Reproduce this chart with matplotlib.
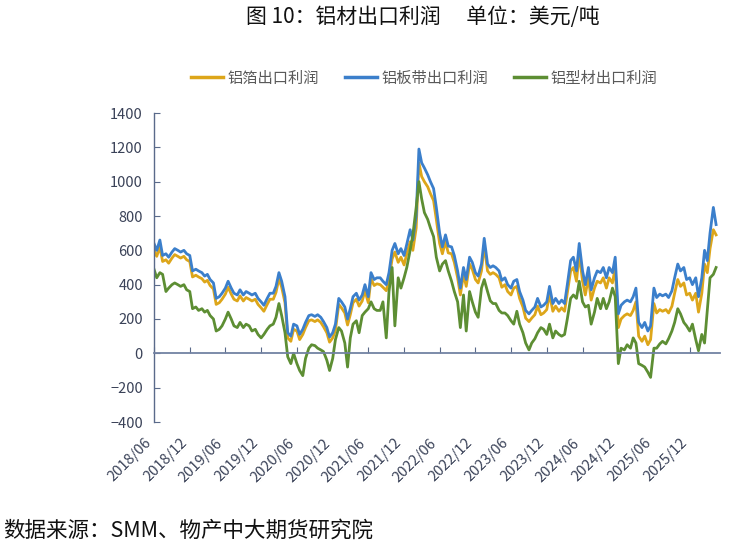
import matplotlib
matplotlib.use("Agg")
import matplotlib.pyplot as plt
import matplotlib.dates as mdates
import pandas as pd
import numpy as np

plt.rcParams['font.family'] = ['Noto Sans CJK SC', 'DejaVu Sans']

# semi-monthly observations starting 2018-06-01
start_date = '2018-06-01'

plate = [  # 铝板带出口利润
    640, 600, 660, 570, 580, 560, 590, 610, 600, 590,
    600, 580, 570, 480, 490, 480, 470, 450, 460, 430,
    410, 320, 330, 350, 380, 420, 380, 350, 340, 370,
    340, 360, 350, 340, 350, 320, 300, 280, 320, 350,
    350, 390, 470, 420, 330, 120, 100, 170,
    160, 110, 140, 180, 220, 225, 215, 225, 210, 185,
    150, 95, 120, 170, 320, 300, 270, 200, 260, 330,
    350, 310, 340, 400, 330, 470, 430, 440, 440, 420,
    400, 470, 600, 640, 580, 610, 570, 636, 720, 660,
    800, 1190, 1110, 1080, 1040, 1000, 960, 850,
    700, 620, 690, 625, 620, 570, 480, 380, 500, 430,
    560, 530, 470, 450, 520, 670, 520, 500, 510, 500,
    480, 425, 440, 400, 380, 420, 430, 360, 310, 250,
    230, 250, 270, 320, 270, 280, 300, 390, 290, 320,
    290, 310, 290, 400, 540, 560, 480, 640,
    480, 400, 500, 370, 440, 480, 470, 500, 440, 500,
    470, 560, 230, 280, 300, 310, 300, 330, 380, 180,
    150, 180, 130, 160, 380, 325, 345, 335, 345, 325,
    364, 440, 520, 480, 500, 430, 440, 400, 440, 330,
    440, 600, 540, 700, 850, 750,
]

foil = [  # 铝箔出口利润
    600, 565, 620, 535, 545, 525, 555, 575, 565, 555,
    565, 545, 535, 445, 455, 445, 435, 415, 425, 395,
    375, 285, 295, 315, 345, 385, 345, 315, 305, 335,
    305, 325, 315, 305, 315, 285, 265, 245, 285, 315,
    315, 355, 435, 385, 295, 90, 70, 140,
    130, 80, 110, 150, 190, 195, 185, 195, 180, 155,
    120, 65, 90, 135, 285, 265, 235, 165, 225, 295,
    315, 275, 305, 365, 295, 435, 395, 405, 400, 385,
    365, 430, 550, 590, 530, 560, 515, 580, 650, 600,
    730, 1110, 1030, 1000, 970, 930, 890, 780,
    640, 580, 650, 585, 580, 530, 440, 340, 460, 390,
    520, 490, 430, 410, 480, 630, 480, 460, 470, 460,
    440, 385, 400, 360, 340, 380, 390, 320, 270, 205,
    185, 205, 225, 275, 225, 235, 255, 345, 245, 275,
    245, 265, 245, 350, 480, 500, 420, 580,
    420, 340, 440, 310, 380, 420, 410, 440, 380, 440,
    410, 500, 150, 200, 220, 230, 220, 250, 300, 100,
    70, 100, 50, 80, 290, 235, 255, 245, 255, 235,
    274, 350, 430, 390, 410, 340, 350, 310, 350, 240,
    350, 520, 470, 610, 720, 690,
]

profile = [  # 铝型材出口利润
    490, 440, 470, 460, 360, 380, 400, 410, 400, 390,
    400, 370, 360, 260, 270, 250, 260, 240, 250, 220,
    200, 130, 140, 160, 200, 240, 200, 160, 150, 180,
    150, 170, 160, 130, 140, 110, 90, 110, 140, 160,
    170, 210, 290, 220, 120, -20, -60, 0,
    -60, -100, -130, -30, 30, 50, 45, 30, 20, 10,
    -40, -100, -30, 80, 150, 130, 60, -80, 90, 170,
    190, 120, 220, 240, 260, 300, 260, 250, 250, 300,
    90, 360, 500, 160, 440, 380, 440, 500, 600, 690,
    850, 1000, 900, 820, 780, 730, 680, 560,
    480, 520, 540, 480, 420, 360, 300, 150, 340, 130,
    360, 300, 240, 210, 380, 430, 360, 306, 290, 290,
    250, 235, 235, 220, 190, 170, 245, 170, 120, 60,
    20, 60, 85, 120, 150, 140, 110, 170, 90, 130,
    110, 100, 110, 200, 320, 340, 320, 420,
    300, 270, 280, 170, 240, 320, 260, 320, 260, 300,
    380, 330, -60, 30, 20, 50, 30, 90, 60, -60,
    -70, -80, -110, -140, 30, 30, 55, 70, 55, 85,
    130, 180, 260, 230, 180, 160, 130, 170, 80, 15,
    110, 60, 250, 440, 460, 500,
]

series_names = ['铝箔出口利润', '铝板带出口利润', '铝型材出口利润']
series_colors = ['#DDA61A', '#3B7FCB', '#5D8E33']

tick_labels = ['2018/06', '2018/12', '2019/06', '2019/12', '2020/06', '2020/12',
               '2021/06', '2021/12', '2022/06', '2022/12', '2023/06', '2023/12',
               '2024/06', '2024/12', '2025/06', '2025/12']
y_ticks = list(range(-400, 1401, 200))

title = '图 10：铝材出口利润\u3000 单位：美元/吨'
source = '数据来源：SMM、物产中大期货研究院'

dates = pd.date_range(start_date, periods=len(plate), freq='SMS')
tick_dates = [pd.Timestamp(t.replace('/', '-') + '-01') for t in tick_labels]

fig = plt.figure(figsize=(7.29, 5.44), dpi=100)
ax = fig.add_axes([154/729, 1-422/544, (720-154)/729, (422-113)/544])

axis_col = '#5A6A8A'
lab_col = '#3A4258'

for vals, name, col in zip([foil, plate, profile], series_names, series_colors):
    ax.plot(dates, vals, color=col, lw=2.0, label=name, solid_joinstyle='round')

ax.set_ylim(-400, 1400)
ax.set_yticks(y_ticks)
ax.set_xlim(pd.Timestamp('2018-06-01'), pd.Timestamp('2026-05-05'))

for s in ['top', 'right']:
    ax.spines[s].set_visible(False)
ax.spines['left'].set_color(axis_col)
ax.spines['left'].set_linewidth(1.0)
ax.spines['bottom'].set_position(('data', 0))
ax.spines['bottom'].set_color('#7282A2')
ax.spines['bottom'].set_linewidth(1.3)

ax.set_xticks(tick_dates)
ax.tick_params(axis='x', direction='in', length=4, color=axis_col, labelbottom=False)
ax.tick_params(axis='y', direction='in', length=4, color=axis_col, labelsize=10.5,
               labelcolor=lab_col, pad=8)

sec = ax.secondary_xaxis('bottom')
sec.set_xticks(tick_dates, tick_labels)
sec.tick_params(length=0, labelsize=10.5, labelcolor=lab_col, pad=10)
sec.spines['bottom'].set_visible(False)
for lbl in sec.get_xticklabels():
    lbl.set_rotation(45)
    lbl.set_ha('right')

handles, labels = ax.get_legend_handles_labels()
leg = fig.legend(handles, labels, loc='center', bbox_to_anchor=(424/729, 1-78/544),
                 ncol=3, frameon=False, fontsize=11, handlelength=2.1,
                 handletextpad=0.3, columnspacing=1.7)
for t in leg.get_texts():
    t.set_color('#595959')
for l in leg.get_lines():
    l.set_linewidth(2.5)

fig.text(423/729, 1-17/544, title, ha='center', va='center', fontsize=15, color='#111111')
fig.text(3/729, 1-531/544, source, ha='left', va='center', fontsize=15.5, color='#111111')

fig.savefig('out.png', dpi=100)
